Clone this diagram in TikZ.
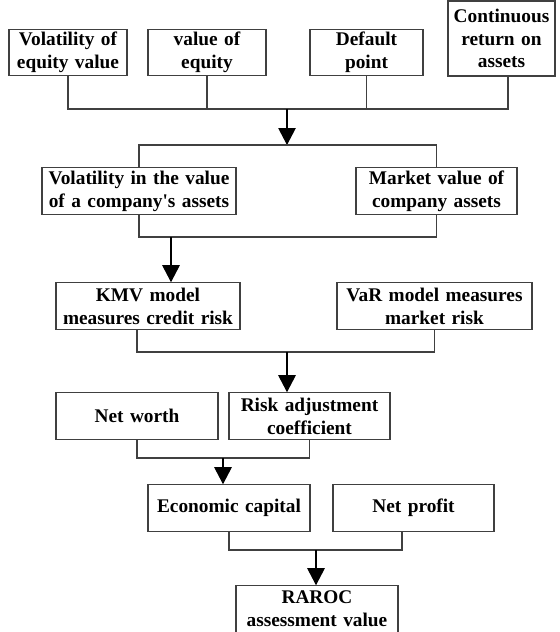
\documentclass[tikz,border=0pt]{standalone}
\usepackage{fontspec}
\setmainfont{Liberation Serif}
\usetikzlibrary{positioning,arrows.meta}
\tikzstyle{gbox}=[rectangle, draw=black!75, line width=0.6pt, fill=white,
                  minimum height=9.3mm, inner sep=0pt, text centered,
                  font=\fontsize{11}{13}\selectfont\bfseries]
\tikzstyle{pline}=[-, line width=0.6pt, draw=black!75]
\tikzstyle{parrow}=[-{Triangle[length=3.4mm,width=3.5mm]}, line width=0.6pt, draw=black]

\begin{document}
\begin{tikzpicture}[x=0.02cm, y=-0.02cm, node distance=0mm]
\useasboundingbox (0,0) rectangle (559,632);
\clip (0,0) rectangle (559,632);

\node (VEV) [gbox, text width=2.36cm] at (68,52.5) {Volatility of\\ equity value};
\node (VOE) [gbox, text width=2.36cm] at (207,52.5) {value of\\ equity};
\node (DFP) [gbox, text width=2.26cm] at (366.5,52.5) {Default\\ point};
\node (CRA) [gbox, text width=2.14cm, minimum height=15mm] at (501.5,38.5) {Continuous\\ return on\\ assets};
\coordinate (J1) at (287,109);
\coordinate (B2) at (287,145);
 \draw[pline] (VEV.south) |- (J1);
 \draw[pline] (VOE.south) |- (J1);
 \draw[pline] (DFP.south) |- (J1);
 \draw[pline] ([xshift=0.13cm]CRA.south) |- (J1);
 \draw[parrow] (J1) -- (B2);

\node (VCA) [gbox, text width=3.88cm] at (139,191) {Volatility in the value\\ of a company\textquotesingle s assets};
\node (MVA) [gbox, text width=3.22cm] at (436.5,191) {Market value of\\ company assets};
 \draw[pline] (VCA.north) |- (B2) -| (MVA.north);
\coordinate (J2) at (171,237);
 \draw[pline] (VCA.south) |- (J2) -| (MVA.south);

\node (KMV) [gbox, text width=3.68cm] at (148,306) {KMV model\\ measures credit risk};
\node (VAR) [gbox, text width=3.90cm] at (434.5,306) {VaR model measures\\ market risk};
 \draw[parrow] (J2) -- (J2 |- KMV.north);
\coordinate (J3) at (287,352);
 \draw[pline] ([xshift=-0.22cm]KMV.south) |- (J3) -| (VAR.south);

\node (NWT) [gbox, text width=3.24cm] at (137,416) {Net worth};
\node (RAC) [gbox, text width=3.22cm] at (309.5,416) {Risk adjustment\\ coefficient};
 \draw[parrow] (J3) -- (J3 |- RAC.north);
\coordinate (J4) at (223,458);
 \draw[pline] (NWT.south) |- (J4) -| (RAC.south);

\node (ECC) [gbox, text width=3.24cm] at (229,508) {Economic capital};
\node (NPF) [gbox, text width=3.22cm] at (413.5,508) {Net profit};
 \draw[parrow] (J4) -- (J4 |- ECC.north);
\coordinate (J5) at (316,550);
 \draw[pline] (ECC.south) |- (J5) -| ([xshift=-0.23cm]NPF.south);

\node (RAR) [gbox, text width=3.24cm] at (317,609) {RAROC\\ assessment value};
 \draw[parrow] (J5) -- (J5 |- RAR.north);

\end{tikzpicture}
\end{document}
